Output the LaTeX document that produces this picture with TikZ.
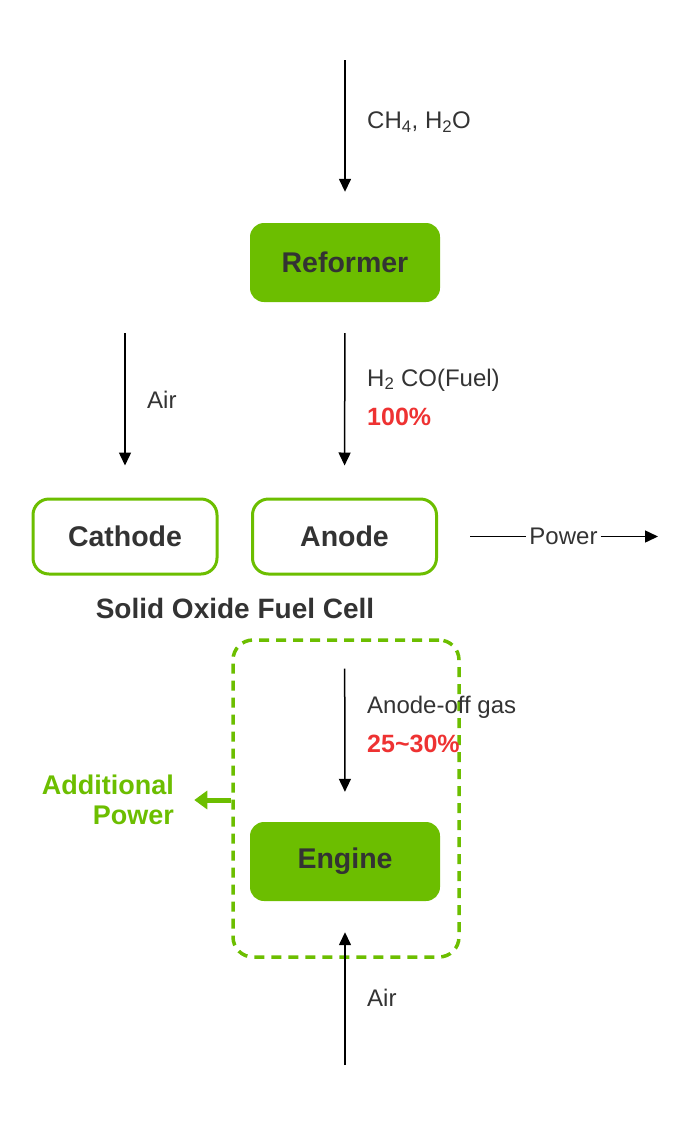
\documentclass[tikz,border=0pt]{standalone}
\usepackage{fontspec}
\setmainfont{Liberation Sans}
\usetikzlibrary{arrows.meta,positioning}
\definecolor{LeafGreen}{RGB}{108,190,0}
\definecolor{InkGray}{RGB}{51,51,51}
\definecolor{AlertRed}{RGB}{238,50,50}

\begin{document}
\begin{tikzpicture}[x=1pt,y=-1pt,
    unitbox/.style={rounded corners=14pt,minimum width=190pt,minimum height=79pt,
        font=\fontsize{28.5}{32}\selectfont\bfseries,text=InkGray},
    solidbox/.style={unitbox,fill=LeafGreen},
    cellbox/.style={unitbox,draw=LeafGreen,line width=3pt,
        minimum width=184pt,minimum height=75pt,rounded corners=16pt},
    flow/.style={-{Triangle[length=13pt,width=12pt]},line width=1.5pt,black},
    tag/.style={anchor=west,inner sep=0pt,font=\fontsize{24}{28}\selectfont,text=InkGray},
    share/.style={tag,font=\fontsize{25}{28}\selectfont\bfseries,text=AlertRed}]
\useasboundingbox (0,0) rectangle (690,1125);
% units
\node[solidbox] (reformer) at (345,262.5){Reformer};
\node[cellbox] (cathode) at (125,536.5){Cathode};
\node[cellbox] (anode) at (344.5,536.5){Anode};
\node[font=\fontsize{28}{32}\selectfont\bfseries,text=InkGray] (sofc) at (235,608){Solid Oxide Fuel Cell};
\node[solidbox] (engine) at (345,861.5){Engine};
\node[draw=LeafGreen,line width=3.5pt,dash pattern=on 10pt off 7pt,rounded corners=20pt,
    minimum width=226pt,minimum height=317pt] (loop) at (346,798.5){};
% feed lines
\coordinate (gasin) at (345,60);
\coordinate (airin) at (125,333);
\coordinate (airlow) at (345,1065);
\coordinate (gridout) at (658,536.5);
\draw[flow] (gasin) -- ([yshift=31pt]reformer.north);
\node[tag] (gaslabel) at (367,122){CH\textsubscript{4}, H\textsubscript{2}O};
\draw[flow] (airin) -- ([yshift=32pt]cathode.north);
\node[tag] (airlabel) at (147,400){Air};
\draw[flow,shorten <=31pt,shorten >=32pt] (reformer.south) -- (anode.north);
\node[tag] (fuellabel) at (367,380){H\textsubscript{2} CO(Fuel)};
\node[share] (fuelshare) at (367,417){100\%};
\draw[flow,shorten <=93pt,shorten >=30pt] (anode.south) -- (engine.north);
\node[tag] (offlabel) at (367,707){Anode-off gas};
\node[share] (offshare) at (367,744){25\textasciitilde30\%};
\draw[flow] (airlow) -- ([yshift=-31pt]engine.south);
\node[tag] (airlabel2) at (367,998){Air};
% power
\node[tag,anchor=center,inner sep=3pt] (power) at (563.5,536.5){Power};
\draw[line width=1.5pt] ([xshift=32pt]anode.east) -- (power.west);
\draw[flow] (power.east) -- (gridout);
\draw[line width=5pt,LeafGreen,-{Triangle[length=13pt,width=18pt]}] ([yshift=-1.5pt]loop.west) -- ++(-37,0) coordinate (extra);
\node[anchor=east,align=right,inner sep=0pt,text=LeafGreen,
    font=\fontsize{27}{30}\selectfont\bfseries] (extralabel) at (174,800){Additional\\Power};
\end{tikzpicture}
\end{document}
